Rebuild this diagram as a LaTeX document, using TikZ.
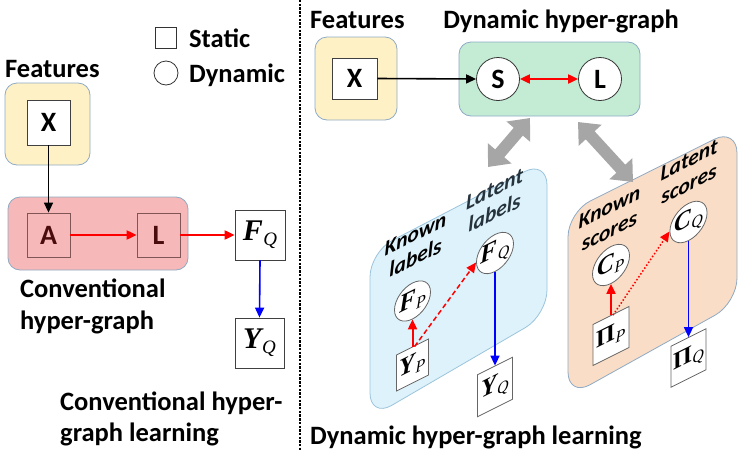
\documentclass[tikz,border=0pt]{standalone}
\usepackage{fontspec}
\setmainfont{Carlito}
\newfontfamily\tms{Liberation Serif}
\usepackage{graphicx}
\usetikzlibrary{arrows.meta,shapes.geometric}
\definecolor{yelfill}{HTML}{FFF1C6}
\definecolor{pinkfill}{HTML}{F6B8B8}
\definecolor{greenfill}{HTML}{C4EBD4}
\definecolor{bluefill}{HTML}{DDF2FA}
\definecolor{orangefill}{HTML}{FADDC6}
\definecolor{panelborder}{HTML}{8EAAC4}
\definecolor{bluepanelborder}{HTML}{9CC4DD}
\definecolor{arrowgray}{HTML}{A6A6A6}
\definecolor{darkred}{HTML}{4A0C0C}
\definecolor{slate}{HTML}{26333D}
\newcommand\mv[4]{{\fontsize{#3}{#3}\selectfont\tms\bfseries\itshape #1}\kern0.5pt{\fontsize{#4}{#4}\selectfont\tms\itshape\raisebox{-0.28em}{#2}}}
\newcommand\mvu[4]{{\fontsize{#3}{#3}\selectfont\tms\bfseries #1}\kern0.5pt{\fontsize{#4}{#4}\selectfont\tms\itshape\raisebox{-0.28em}{#2}}}
\newcommand\snode[4]{\begin{scope}[shift={(#1)},yslant=0.5]\node[transform shape,#2] (#3) at (0,0) {#4};\end{scope}}
\begin{document}
\begin{tikzpicture}[x=1pt,y=-1pt,
  txt/.style={inner sep=0pt,font=\fontsize{26.5}{30}\selectfont\bfseries},
  sbox/.style={draw=black!75,fill=white,inner sep=0pt,line width=0.8pt},
  lbl/.style={font=\fontsize{28}{28}\selectfont\bfseries},
  dcirc/.style={circle,draw=black!80,fill=white,inner sep=0pt,line width=0.8pt},
  hgbox/.style={draw=panelborder,line width=0.8pt,rounded corners=12pt},
  blackarrow/.style={line width=1.6pt,-{Triangle[length=10pt,width=9pt]}},
  redarrow/.style={red,line width=2pt,-{Triangle[length=10pt,width=9pt]}},
  redtwo/.style={red,line width=2pt,{Triangle[length=10pt,width=9pt]}-{Triangle[length=10pt,width=9pt]}},
  bluearrow/.style={blue,line width=1.6pt,-{Triangle[length=10pt,width=9pt]}},
  grayarrow/.style={arrowgray,line width=12pt,{Triangle[length=18pt,width=30pt]}-{Triangle[length=18pt,width=30pt]}},
  slbl/.style={font=\fontsize{21.5}{24}\selectfont\bfseries\itshape,align=center,inner sep=0pt},
  spanel/.style={line width=0.8pt,rounded corners=25pt}]
\useasboundingbox (0,0) rectangle (741,450);

% ---------- left part ----------
\node[draw=black!80,line width=0.8pt,minimum size=21pt,inner sep=0pt] (legsq) at (165.5,38) {};
\node[circle,draw=black!80,line width=0.8pt,minimum size=24pt,inner sep=0pt] (legci) at (166,73) {};
\node[txt,anchor=base west] (statictxt) at (189,47) {Static};
\node[txt,anchor=base west] (dyntxt) at (189,82) {Dynamic};

\node[txt,anchor=base west] (featL) at (5,77) {Features};
\node[hgbox,fill=yelfill,minimum width=85pt,minimum height=82pt] (yelL) at (47.5,124) {};
\node[sbox,lbl,minimum width=43pt,minimum height=45pt] (XL) at (48.5,122.5) {X};

\node[hgbox,fill=pinkfill,minimum width=180pt,minimum height=73pt] (pinkL) at (98,233.5) {};
\node[draw=darkred!70,line width=0.8pt,inner sep=0pt,lbl,text=darkred,minimum width=43pt,minimum height=44pt] (AL) at (48.5,235) {A};
\node[draw=darkred!70,line width=0.8pt,inner sep=0pt,lbl,text=darkred,minimum width=43pt,minimum height=44pt] (LL) at (158.5,235) {L};
\node[sbox,minimum width=50pt,minimum height=50pt] (FQL) at (260,235) {\mv{F}{Q}{30}{19}};
\node[sbox,minimum width=49pt,minimum height=50pt] (YQL) at (259.5,343) {\mv{Y}{Q}{30}{19}};

\draw[blackarrow] (XL.south) -- (AL.north);
\draw[redarrow] (AL.east) -- (LL.west);
\draw[redarrow] (LL.east) -- (FQL.west);
\draw[bluearrow] (FQL.south) -- (YQL.north);

\node[txt,anchor=base west] (conv1) at (20,297) {Conventional};
\node[txt,anchor=base west] (conv2) at (20,329) {hyper-graph};
\node[txt,anchor=base west] (cl1) at (60,410) {Conventional hyper-};
\node[txt,anchor=base west] (cl2) at (60,441) {graph learning};

% ---------- separator ----------
\coordinate (septop) at (300,0);
\coordinate (sepbot) at (300,450);
\draw[line width=2.4pt,dash pattern=on 2.4pt off 1.3pt] (septop) -- (sepbot);

% ---------- right part ----------
\node[txt,anchor=base west] (featR) at (310,28) {Features};
\node[txt,anchor=base] (dhg) at (561,28) {Dynamic hyper-graph};
\node[hgbox,fill=yelfill,minimum width=82pt,minimum height=83pt] (yelR) at (356,78.5) {};
\node[sbox,lbl,minimum width=45pt,minimum height=41pt] (XR) at (354.5,78.5) {X};
\node[hgbox,fill=greenfill,minimum width=181pt,minimum height=74pt] (greenR) at (549.5,79) {};
\node[dcirc,lbl,minimum size=43pt] (SR) at (498,79) {S};
\node[dcirc,lbl,minimum size=43pt] (LR) at (600,79) {L};
\draw[blackarrow] (XR.east) -- (SR.west);
\draw[redtwo] (SR.east) -- (LR.west);

% panels
\draw[spanel,draw=bluepanelborder,fill=bluefill] (370,335) -- (370,252) -- (547,160) -- (547,315) -- (370,418) -- cycle;
\draw[spanel,draw=panelborder,fill=orangefill] (568,305) -- (568,212) -- (737,128) -- (737,303) -- (568,397) -- cycle;

% gray double arrows
\coordinate (ga1) at (530,118);
\coordinate (ga2) at (488,167);
\coordinate (gb1) at (578,122);
\coordinate (gb2) at (633,182);
\draw[grayarrow] (ga1) -- (ga2);
\draw[grayarrow] (gb1) -- (gb2);

% blue panel content
\snode{415.5,246}{slbl}{knownL}{Known\\labels}
\snode{494.5,201}{slbl,text=slate}{latentL}{Latent\\labels}
\snode{412.5,301}{dcirc,minimum size=36pt,draw=black!60}{FP}{\mv{F}{P}{25}{16}}
\snode{495,253}{dcirc,minimum size=37pt,draw=black!60}{FQ}{\mv{F}{Q}{25}{16}}
\snode{412.5,365}{sbox,draw=black!60,minimum width=32pt,minimum height=36pt}{YP}{\mv{Y}{P}{25}{16}}
\snode{495,387}{sbox,draw=black!60,minimum width=35pt,minimum height=42pt}{YQ}{\mv{Y}{Q}{25}{16}}
\draw[redarrow] (YP.north) -- (FP.south);
\draw[redarrow,dash pattern=on 5pt off 3pt,line width=1.5pt] ([xshift=2pt]YP.north) -- (FQ.west);
\draw[bluearrow] (FQ.south) -- (YQ.north);

% orange panel content
\snode{609.5,219}{slbl}{knownS}{Known\\scores}
\snode{689,172}{slbl}{latentS}{Latent\\scores}
\snode{611,265}{dcirc,minimum size=37pt,draw=black!60}{CP}{\mv{C}{P}{25}{16}}
\snode{688.5,222}{dcirc,minimum size=37pt,draw=black!60}{CQ}{\mv{C}{Q}{25}{16}}
\snode{611,336}{sbox,draw=black!60,minimum width=36pt,minimum height=41pt}{PiP}{\mvu{Π}{P}{24}{16}}
\snode{688.5,358}{sbox,draw=black!60,minimum width=35pt,minimum height=41pt}{PiQ}{\mvu{Π}{Q}{24}{16}}
\draw[redarrow] (PiP.north) -- (CP.south);
\draw[redarrow,dash pattern=on 1.5pt off 2pt,line width=1.5pt] ([xshift=2pt]PiP.north) -- (CQ.west);
\draw[bluearrow] (CQ.south) -- (PiQ.north);

\node[txt,anchor=base west] (dhgl) at (310,444) {Dynamic hyper-graph learning};
\end{tikzpicture}
\end{document}
